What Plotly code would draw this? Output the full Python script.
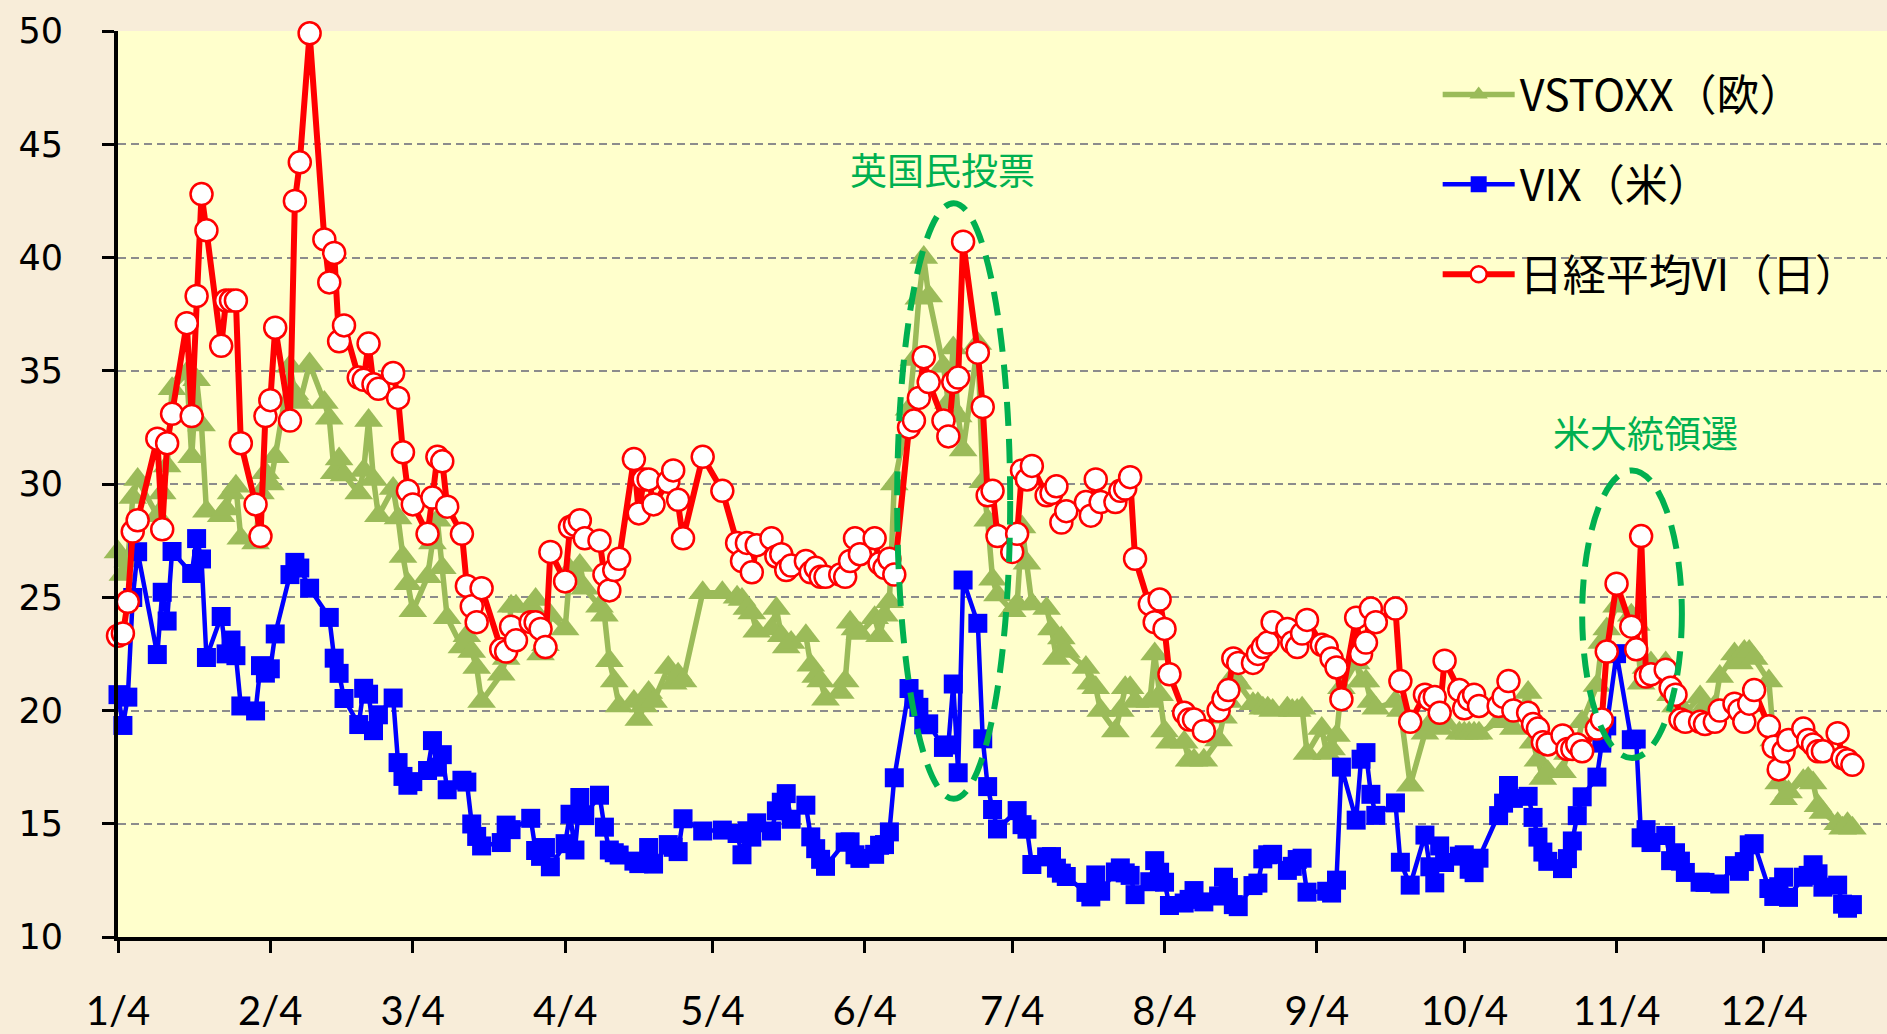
import pandas as pd
import plotly.graph_objects as go

# ---- trading days (Tokyo calendar, 2016) ----
jp_holidays = ["2016-01-11", "2016-02-11", "2016-03-21", "2016-04-29", "2016-05-03",
               "2016-05-04", "2016-05-05", "2016-07-18", "2016-08-11", "2016-09-19",
               "2016-09-22", "2016-10-10", "2016-11-03", "2016-11-23"]
dates = pd.bdate_range("2016-01-04", "2016-12-22", freq="C", holidays=jp_holidays)

# ---- Nikkei VI (red) ----
nk_jan = [23.3, 23.4, 24.8, 27.9, 28.4, 32.0, 28.0, 31.8, 33.1, 37.1, 33.0, 38.3, 42.8, 41.2, 36.1, 38.1, 38.1, 38.1, 31.8]
nk_feb = [29.1, 27.7, 33.0, 33.7, 36.9, 32.8, 42.5, 44.2, 49.9, 40.8, 38.9, 40.2, 36.3, 37.0, 34.7, 34.6, 36.2, 34.4, 34.2, 34.9]
nk_mar = [33.8, 31.4, 29.7, 29.1, 27.8, 29.4, 31.2, 31.0, 29.0, 27.8, 25.5, 24.6, 23.9, 25.4, 22.7, 22.6, 23.7, 23.1, 23.9, 23.9, 23.6, 22.8]
nk_apr = [27.0, 25.7, 28.1, 28.2, 28.4, 27.6, 27.5, 26.0, 25.3, 26.2, 26.7, 31.1, 28.7, 30.2, 30.2, 29.1, 30.1, 30.6, 29.3, 27.6]
nk_may = [31.2, 29.7, 27.4, 26.6, 27.4, 26.1, 27.3, 27.6, 26.8, 26.9, 26.2, 26.4, 26.6, 26.1, 26.3, 25.9, 25.9, 26.0, 25.9]
nk_jun = [26.6, 27.6, 26.9, 27.6, 26.5, 26.3, 26.7, 26.0, 32.5, 32.8, 33.8, 35.6, 34.5, 32.8, 32.1, 34.5, 34.7, 40.7, 35.8, 33.4, 29.5, 29.7]
nk_jul = [27.7, 27.0, 27.8, 30.6, 30.2, 30.8, 29.5, 29.6, 29.9, 28.3, 28.8, 29.2, 28.6, 30.2, 29.2, 29.2, 29.7, 29.8, 30.3, 26.7]
nk_aug = [24.7, 23.9, 24.9, 23.6, 21.6, 19.9, 19.6, 19.6, 19.1, 20.0, 20.5, 20.9, 22.3, 22.1, 22.1, 22.5, 22.8, 23.0, 23.9, 23.6, 23.0, 22.8]
nk_sep = [23.4, 24.0, 22.9, 22.8, 22.3, 21.9, 20.5, 24.1, 22.5, 23.0, 24.5, 23.9, 24.5, 21.3, 19.5, 20.7, 20.5, 20.6, 19.9, 22.2]
nk_oct = [20.9, 20.1, 20.5, 20.7, 20.2, 20.2, 20.6, 21.3, 20.0, 19.9, 19.4, 19.2, 18.6, 18.5, 18.9, 18.3, 18.3, 18.5, 18.2, 19.2]
nk_nov = [19.6, 22.6, 25.6, 23.7, 22.7, 27.7, 21.5, 21.6, 21.8, 21.0, 20.7, 19.6, 19.5, 19.5, 19.4, 19.5, 20.0, 20.3, 20.0, 19.5]
nk_dec = [20.3, 20.9, 19.3, 18.4, 17.4, 18.2, 18.7, 19.2, 18.7, 18.5, 18.2, 18.2, 19.0, 17.9, 17.8, 17.6]

# ---- VIX (blue) ----
vix_jan = [20.70, 19.34, 20.59, 24.99, 27.01, 22.47, 25.22, 23.95, 27.02, None, 26.05, 27.59, 26.69, 22.34, 24.15, 22.50, 23.11, 22.42, 20.20]
vix_feb = [19.98, 21.98, 21.65, 21.84, 23.38, 26.00, 26.54, 26.29, 25.40, None, 24.11, 22.31, 21.64, 20.53, 19.38, 20.98, 20.72, 19.11, 19.81, 20.55]
vix_mar = [17.70, 17.09, 16.70, 16.86, 17.35, 18.67, 17.50, 18.05, 16.50, 16.92, 16.84, 14.99, 14.44, 14.02, 14.17, 14.94, 14.74, None, 15.24, 13.82, 13.56, 13.95]
vix_apr = [13.10, 14.12, 15.42, 13.84, 16.16, 15.36, 16.26, 14.85, 13.84, 13.72, 13.62, 13.35, 13.24, 13.28, 13.95, 13.22, 14.08, 13.96, 13.77, 15.22]
vix_may = [14.68, 14.72, 14.57, 13.63, 14.69, 14.41, 15.04, 14.68, 15.57, 15.95, 16.33, 15.20, 15.82, 14.42, 13.90, 13.43, 13.12, None, 14.19]
vix_jun = [14.20, 13.63, 13.47, 13.65, 14.05, 14.08, 14.64, 17.03, 20.97, 20.50, 20.14, 19.37, 19.41, 18.37, 18.48, 21.17, 17.25, 25.76, 23.85, 18.75, 16.64, 15.63]
vix_jul = [14.77, None, 15.58, 14.96, 14.76, 13.20, 13.54, 13.55, 13.04, 12.82, 12.67, 11.97, 11.77, 12.74, 12.02, 12.87, 13.05, 12.83, 12.72, 11.87]
vix_aug = [12.44, 13.37, 12.86, 12.42, 11.39, 11.50, 11.66, 12.05, 11.55, 11.81, 12.64, 12.19, 11.43, 11.34, 12.27, 12.38, 13.45, 13.63, 13.65, 12.94, 13.12, 13.42]
vix_sep = [13.48, 11.98, None, 12.02, 11.94, 12.51, 17.50, 15.16, 17.85, 18.14, 16.30, 15.37, 15.92, 13.30, 12.29, 14.50, 13.10, 12.39, 14.02, 13.29]
vix_oct = [13.57, 13.63, 12.99, 12.84, 13.48, 15.36, 15.91, 16.69, 16.12, 16.21, 15.28, 14.41, 13.75, 13.34, 13.02, 13.46, 14.24, 15.36, 16.19, 17.06]
vix_nov = [18.56, 19.32, 22.51, 18.71, 18.74, 14.38, 14.74, 14.17, 14.48, 13.37, 13.72, 13.35, 12.85, 12.42, 12.41, None, 12.34, 13.15, 12.90, 13.33]
vix_dec = [14.07, 14.12, 12.14, 11.79, 12.22, 12.64, 11.75, 12.64, 12.72, 13.19, 12.79, 12.20, 12.29, 11.45, 11.27, 11.43]

# ---- VSTOXX (green) ----
vs_jan = [27.0, 26.0, 26.6, 29.4, 30.2, 28.6, 29.6, 30.8, 34.2, 34.9, 31.2, 34.6, 32.6, 28.8, 28.6, 28.9, 29.6, 29.9, 27.6]
vs_feb = [27.4, 29.6, 30.5, 30.0, 31.2, 35.2, 34.0, 33.6, 35.3, 33.6, 32.9, 30.5, 31.1, 30.4, 29.6, 30.6, 32.8, 30.2, 28.6, 29.8]
vs_mar = [28.5, 26.8, 25.6, 24.4, 25.9, 27.4, 28.4, 26.3, 24.1, 22.8, 23.3, 22.6, 21.9, 20.4, 21.6, 22.3, 24.6, 24.6, 24.6, 24.9, 22.5, 22.9]
vs_apr = [24.2, 23.6, 26.2, 25.8, 26.4, 25.4, 24.6, 24.2, 22.2, 21.3, 20.2, 20.4, 19.6, 20.2, 20.8, 20.4, 21.9, 21.2, 21.6, 21.3]
vs_may = [25.2, 25.2, 25.0, 24.9, 24.5, 24.3, 23.5, 23.6, 24.5, 23.3, 22.8, 23.0, 23.3, 22.0, 21.5, 21.3, 20.5, 20.8, 21.3]
vs_jun = [23.9, 23.6, 23.4, 24.1, 23.3, 24.2, 24.8, 30.0, 33.3, 35.5, 38.2, 40.0, 38.3, 35.2, 33.6, 36.0, 33.0, 31.5, 36.2, 30.1, 28.4, 25.8]
vs_jul = [25.1, 24.4, 24.7, 28.1, 26.5, 24.7, 24.5, 23.6, 22.3, 23.2, 22.6, 21.9, 21.2, 21.0, 20.0, 19.1, 20.0, 21.0, 21.0, 20.4]
vs_aug = [20.4, 22.5, 20.7, 19.1, 18.6, 18.6, 17.8, 17.8, 17.8, 18.7, 19.7, 20.4, 21.5, 21.2, 20.3, 20.3, 20.1, 20.1, 20.0, 20.1, 20.0, 20.0]
vs_sep = [20.1, 18.1, 19.2, 18.1, 18.3, 18.9, 21.0, 22.1, 21.3, 21.3, 20.4, 20.1, 20.4, 20.0, 16.7, 19.0, 19.4, 19.5, 19.2, 19.5]
vs_oct = [19.0, 19.0, 19.0, 19.0, 19.0, 19.5, 19.5, 19.9, 19.2, 20.8, 18.6, 17.8, 17.0, 17.3, 17.3, 18.1, 18.1, 18.5, 19.5, 21.1]
vs_nov = [23.0, 23.6, 24.6, 24.2, 23.8, 21.2, 21.9, 22.1, 22.1, 20.7, 20.2, 20.2, 19.9, 20.6, 20.2, 20.2, 21.5, 22.5, 22.1, 22.6]
vs_dec = [22.6, 22.3, 21.3, 18.7, 16.8, 16.1, 16.4, 16.9, 17.0, 16.8, 15.8, 15.5, 15.0, 14.8, 15.0, 14.8]

nikkei_vi = nk_jan + nk_feb + nk_mar + nk_apr + nk_may + nk_jun + nk_jul + nk_aug + nk_sep + nk_oct + nk_nov + nk_dec
vix = vix_jan + vix_feb + vix_mar + vix_apr + vix_may + vix_jun + vix_jul + vix_aug + vix_sep + vix_oct + vix_nov + vix_dec
vstoxx = vs_jan + vs_feb + vs_mar + vs_apr + vs_may + vs_jun + vs_jul + vs_aug + vs_sep + vs_oct + vs_nov + vs_dec

tick_dates = ["2016-%02d-04" % m for m in range(1, 13)]
tick_labels = ["%d/4" % m for m in range(1, 13)]

names = ["VSTOXX（欧）", "VIX（米）", "日経平均VI（日）"]

GREEN = "#9BBB59"
BLUE = "#0000FF"
RED = "#FF0000"
ANNOT = "#00B050"
PLOT_BG = "#FFFFCC"

fig = go.Figure()
fig.add_trace(go.Scatter(
    x=dates, y=vstoxx, name=names[0], mode="lines+markers", legendgroup="a",
    line=dict(color=GREEN, width=5.5), connectgaps=True, cliponaxis=False,
    marker=dict(symbol="triangle-up", size=25, color=GREEN)))
fig.add_trace(go.Scatter(
    x=dates, y=vix, name=names[1], mode="lines+markers", legendgroup="b",
    line=dict(color=BLUE, width=4.5), connectgaps=True, cliponaxis=False,
    marker=dict(symbol="square", size=19, color=BLUE)))
fig.add_trace(go.Scatter(
    x=dates, y=nikkei_vi, name=names[2], mode="lines+markers", legendgroup="c",
    line=dict(color=RED, width=6), connectgaps=True, cliponaxis=False,
    marker=dict(symbol="circle", size=22, color="white", line=dict(color=RED, width=2.5))))

# legend background panel (hides the gridlines behind the legend)
fig.add_shape(type="rect", xref="paper", yref="paper", x0=0.7462, x1=1.0, y0=0.686, y1=0.985,
              fillcolor=PLOT_BG, line=dict(width=0), layer="between")

# event ellipses
fig.add_shape(type="circle", xref="x", yref="y",
              x0="2016-06-10 14:00", x1="2016-07-03 14:00", y0=16.1, y1=42.4,
              line=dict(color=ANNOT, width=6, dash="24px,13px"), layer="above")
fig.add_shape(type="circle", xref="x", yref="y",
              x0="2016-10-28 00:00", x1="2016-11-17 07:00", y0=17.9, y1=30.6,
              line=dict(color=ANNOT, width=6, dash="24px,13px"), layer="above")

fig.add_annotation(x="2016-06-19 17:00", y=43.9, xref="x", yref="y", text="英国民投票",
                   showarrow=False, font=dict(family="Noto Sans CJK JP", size=37, color=ANNOT))
fig.add_annotation(x="2016-11-09 19:00", y=32.3, xref="x", yref="y", text="米大統領選",
                   showarrow=False, font=dict(family="Noto Sans CJK JP", size=37, color=ANNOT))

fig.update_layout(
    width=1887, height=1034,
    margin=dict(l=118, r=0, t=31, b=83, pad=0),
    paper_bgcolor="#F8EDD9",
    plot_bgcolor=PLOT_BG,
    showlegend=True,
    legend=dict(
        x=0.746, y=0.968, xanchor="left", yanchor="top",
        bgcolor="rgba(0,0,0,0)", borderwidth=0,
        font=dict(family="Noto Sans CJK JP", size=43, color="black"),
        traceorder="grouped", tracegroupgap=31, itemwidth=72),
    xaxis=dict(
        type="date", range=["2016-01-04", "2016-12-29 01:00"],
        tickvals=tick_dates, ticktext=tick_labels,
        showgrid=False, zeroline=False,
        showline=True, linecolor="black", linewidth=4,
        ticks="outside", ticklen=12, tickwidth=3, tickcolor="black",
        ticklabelstandoff=24,
        tickfont=dict(family="Lato", size=40, color="black")),
    yaxis=dict(
        range=[10, 50], dtick=5, tick0=10,
        showgrid=True, gridcolor="#8C8C8C", gridwidth=2, griddash="8px,5px",
        zeroline=False,
        showline=True, linecolor="black", linewidth=4,
        ticks="outside", ticklen=12, tickwidth=3, tickcolor="black",
        ticklabelstandoff=32,
        tickfont=dict(family="DejaVu Sans", size=35, color="black")),
)

fig.write_html("out.html", config={"displayModeBar": False},
               post_script="document.body.style.margin='0px';document.body.style.overflow='hidden';")
